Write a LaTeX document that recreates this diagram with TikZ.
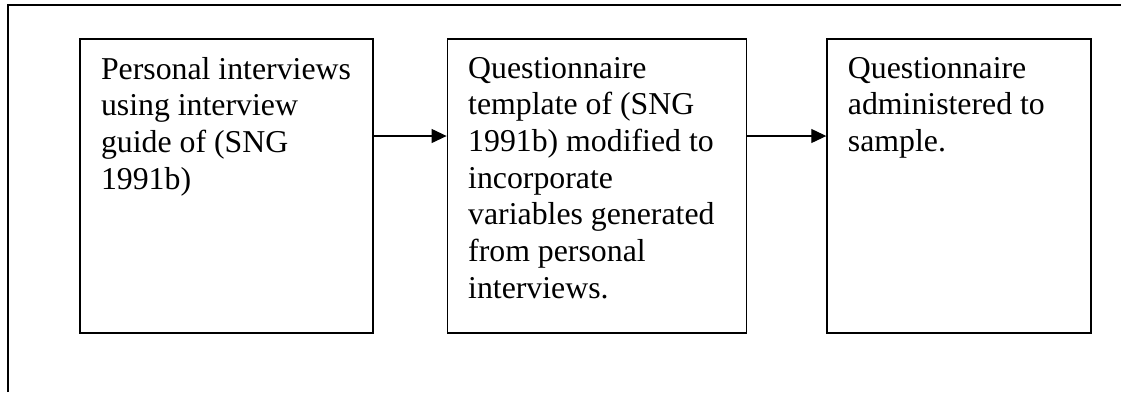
\documentclass[tikz,border=0pt]{standalone}
\usepackage{fontspec}
\setmainfont{Liberation Serif}
\usetikzlibrary{arrows.meta}

\begin{document}
\begin{tikzpicture}[x=1pt,y=-1pt,line width=1.2pt,
    stepbox/.style={draw,minimum width=#1,minimum height=294pt,inner sep=0},
    words/.style={align=left,inner sep=0,anchor=north west,font=\fontsize{31.8}{36.7}\selectfont}]
    \useasboundingbox (0,0) rectangle (1121,392);
    \draw (8,392) -- (8,5) -- (1121,5);

    \node(p)[stepbox=293pt] at (226.5,186) {};
    \node(q)[stepbox=299pt,anchor=west] at ([xshift=73pt]p.east) {};
    \node(s)[stepbox=264pt,anchor=west] at ([xshift=79.5pt]q.east) {};

    \node(pt)[words] at ([xshift=21pt,yshift=-18pt]p.north west) {Personal interviews\\using interview\\guide of (SNG\\1991b)};
    \node(qt)[words] at ([xshift=21pt,yshift=-18pt]q.north west) {Questionnaire\\template of (SNG\\1991b) modified to\\incorporate\\variables generated\\from personal\\interviews.};
    \node(st)[words] at ([xshift=21pt,yshift=-18pt]s.north west) {Questionnaire\\administered to\\sample.};

    \draw[-{Triangle[length=15pt,width=14pt]}] ([yshift=50pt]p.east)--([yshift=50pt]q.west);
    \draw[-{Triangle[length=15pt,width=14pt]}] ([yshift=50pt]q.east)--([yshift=50pt]s.west);
\end{tikzpicture}
\end{document}
